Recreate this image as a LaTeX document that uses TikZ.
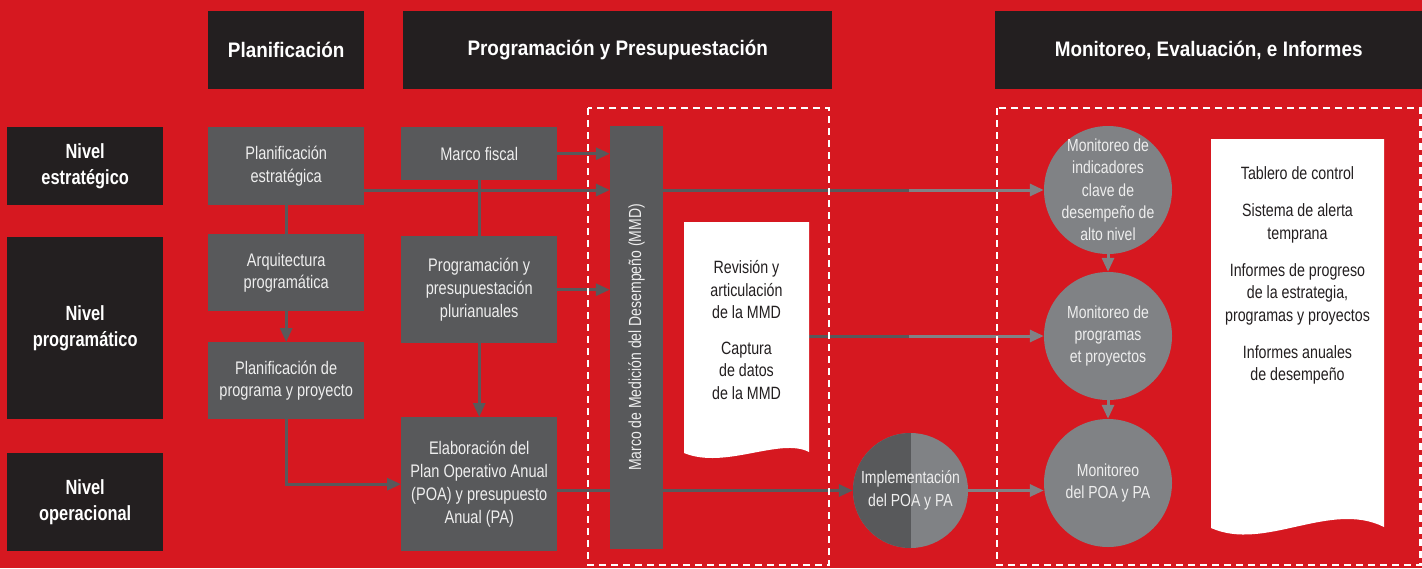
\documentclass[tikz,border=0pt]{standalone}
\usepackage{fontspec}
\setmainfont{Liberation Sans}[FakeStretch=0.8]
\newfontfamily\headfont{Liberation Sans}[FakeStretch=0.9]
\usetikzlibrary{arrows.meta}
\usepackage{xcolor}
\definecolor{bgred}{RGB}{214,24,32}
\definecolor{darkbox}{RGB}{35,31,32}
\definecolor{greybox}{RGB}{88,89,91}
\definecolor{greycirc}{RGB}{128,130,133}
\definecolor{boxtext}{RGB}{238,238,238}
\pgfdeclarelayer{back}
\pgfdeclarelayer{wires}
\pgfsetlayers{back,wires,main}
\tikzset{
    header/.style={fill=darkbox, text=white, font=\headfont\bfseries\fontsize{21}{26}\selectfont, anchor=north west, inner sep=0, minimum height=78},
    level/.style={fill=darkbox, text=white, font=\bfseries\fontsize{20.5}{25.5}\selectfont, align=center, anchor=north west, inner sep=0, minimum width=156},
    task/.style={fill=greybox, text=boxtext, font=\fontsize{18.2}{22.8}\selectfont, align=center, anchor=north west, inner sep=0, minimum width=156},
    monitor/.style={circle, fill=greycirc, text=boxtext, font=\fontsize{17.5}{22.3}\selectfont, align=center, inner sep=-25pt, minimum size=128},
    doctext/.style={text=darkbox, font=\fontsize{17.8}{22.3}\selectfont, align=center, inner sep=0},
    wire/.style={draw=greybox, line width=3pt},
    arr/.style={wire, -{Triangle[length=14pt,width=12pt]}},
    arrlight/.style={arr, draw=greycirc},
    frame/.style={draw=white, line width=2.5pt, dash pattern=on 7pt off 5pt}
}
\begin{document}
\begin{tikzpicture}[x=1pt, y=-1pt]
            \useasboundingbox (0,0) rectangle (1422,568);
            \begin{pgfonlayer}{back}
                \fill[bgred] (0,0) rectangle (1422,568);
            \end{pgfonlayer}
            \coordinate (r1) at (0,190);
            \coordinate (r3) at (0,490.5);
            \coordinate (split) at (909,0);

            \node[header, minimum width=156] (hplan) at (208,11) {Planificación};
            \node[header, minimum width=429] (hprog) at (403,11) {Programación y Presupuestación};
            \node[header, minimum width=427] (hmon) at (995,11) {Monitoreo, Evaluación, e Informes};

            \node[level, minimum height=78] (lstrat) at (7,127) {Nivel\\estratégico};
            \node[level, minimum height=182] (lprog) at (7,237) {Nivel\\programático};
            \node[level, minimum height=98] (loper) at (7,453) {Nivel\\operacional};

            \node[task, minimum height=78] (pe) at (208,127) {Planificación\\estratégica};
            \node[task, minimum height=77] (ap) at (208,234) {Arquitectura\\programática};
            \node[task, minimum height=77] (ppp) at (208,342) {Planificación de\\programa y proyecto};
            \node[task, minimum height=53] (mf) at (401,127) {Marco fiscal};
            \node[task, minimum height=107] (pp) at (401,236) {Programación y\\presupuestación\\plurianuales};
            \node[task, minimum height=134] (elab) at (401,417) {Elaboración del\\Plan Operativo Anual\\(POA) y presupuesto\\Anual (PA)};
            \node[task, anchor=center, rotate=90, minimum width=423, minimum height=53, font=\fontsize{17.5}{22}\selectfont] (mmd) at (636.5,337.5) {Marco de Medición del Desempeño (MMD)};

            \fill[white] (684,222) -- (809,222) -- (809,452) .. controls (780,437) and (725,470) .. (684,453) -- cycle;
            \node[doctext, minimum width=125] (doc1) at (746.5,330) {Revisión y\\articulación\\de la MMD\\[14pt]Captura\\de datos\\de la MMD};
            \fill[white] (1211,139) -- (1384,139) -- (1384,527) .. controls (1330,500) and (1265,552) .. (1211,528) -- cycle;
            \node[doctext] (doc2) at (1297.5,275.5) {Tablero de control\\[15pt]Sistema de alerta\\temprana\\[15pt]Informes de progreso\\de la estrategia,\\programas y proyectos\\[15pt]Informes anuales\\de desempeño};

            \node[monitor] (c1) at (1108,190) {Monitoreo de\\indicadores\\clave de\\desempeño de\\alto nivel};
            \node[monitor] (c2) at (1108,336) {Monitoreo de\\programas\\et proyectos};
            \node[monitor] (c3) at (1108,483) {Monitoreo\\del POA y PA};
            \node[monitor, minimum size=115, path picture={\fill[greybox] (path picture bounding box.north west) rectangle (path picture bounding box.south);}] (impl) at (910.5,490.5) {Implementación\\del POA y PA};

            \begin{pgfonlayer}{wires}
                \draw[wire] (pe.south) -- (ap.north);
                \draw[arr] (ap.south) -- (ppp.north);
                \draw[arr] (ppp.south) |- (elab.west);
                \draw[arr] (mf.south) -- (elab.north);
                \draw[arr] (mf.east) -- (mf.east -| mmd.north);
                \draw[arr] (pe.east |- r1) -- (mmd.north |- r1);
                \draw[arr] (pp.east) -- (pp.east -| mmd.north);
                \draw[wire] (mmd.south |- r1) -- (split |- r1);
                \draw[arrlight] (split |- r1) -- (c1.west);
                \draw[wire] (doc1.east |- c2.west) -- (split |- c2.west);
                \draw[arrlight] (split |- c2.west) -- (c2.west);
                \draw[arr] (elab.east |- r3) -- (impl.west);
                \draw[arrlight] (impl.east) -- (c3.west |- impl.east);
                \draw[arrlight] (c1.south) -- (c2.north);
                \draw[arrlight] (c2.south) -- (c3.north);
            \end{pgfonlayer}

            \draw[frame] (588,108) rectangle (829,565);
            \draw[frame] (997,108) rectangle (1420.5,565);
\end{tikzpicture}
\end{document}
